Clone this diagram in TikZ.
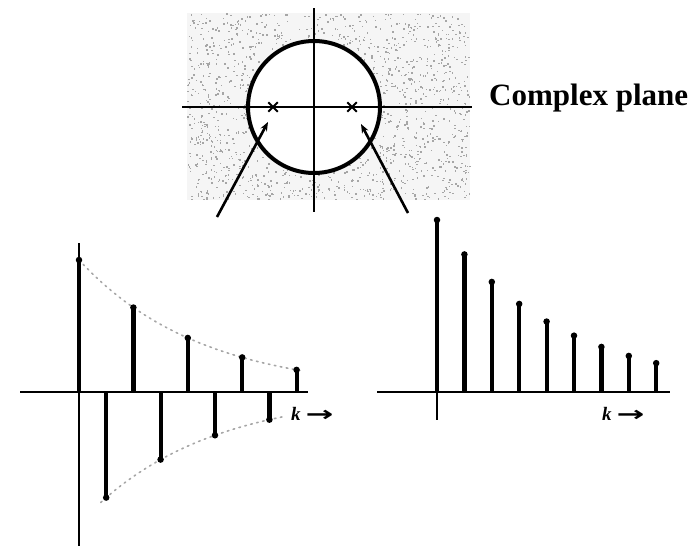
\documentclass[tikz,border=0pt]{standalone}
\usepackage{fontspec}
\usepackage{graphicx}
\setmainfont{Liberation Serif}
\newfontfamily\arrowfont{DejaVu Sans}
\usetikzlibrary{arrows.meta,shapes.misc}

\tikzset{
  axis/.style={line width=2.6pt},
  stem/.style={line width=4.2pt},
  stemtip/.style={circle,fill,inner sep=0pt,minimum size=6.5pt},
  envelope/.style={line width=1.6pt,gray!70,dash pattern=on 1.6pt off 4.5pt,line cap=round},
  pointer/.style={line width=2.6pt,-{Stealth[length=9pt,width=7pt]}},
  pole/.style={cross out,draw,line width=2pt,minimum size=7.5pt,inner sep=0pt},
  klabel/.style={anchor=base west,inner sep=0pt,font=\fontsize{19}{22}\selectfont}
}

\newcommand{\karrow}{\textbf{\textit{k}}\hspace{5pt}\raisebox{-1pt}{\scalebox{1.75}[1.1]{\arrowfont\bfseries →}}}

\begin{document}
\begin{tikzpicture}[x=1pt,y=-1pt]
\useasboundingbox (0,0) rectangle (693,546);

% complex plane
\fill[gray!8] (187,13) rectangle (470,200);
\pgfmathsetseed{42}
\foreach \i in {1,...,1700} {
  \pgfmathsetmacro\dx{187+282*rnd}
  \pgfmathsetmacro\dy{13+186*rnd}
  \fill[gray!70] (\dx,\dy) rectangle ++(1.5,1.5);
}
\node[circle,draw,fill=white,line width=4pt,minimum size=132pt] (unit) at (314,107) {};
\draw[axis] (182,107) -- (472,107);
\draw[axis] (314,8) -- (314,212);
\node[pole] (pole1) at (273,107) {};
\node[pole] (pole2) at (352,107) {};
\node[anchor=base west,inner sep=0pt,font=\fontsize{31}{36}\selectfont\bfseries] (name) at (489,105) {Complex plane};

\coordinate (from1) at (217,217);
\coordinate (to1) at (268,122);
\coordinate (from2) at (408,213);
\coordinate (to2) at (361,124);
\draw[pointer] (from1) -- (to1);
\draw[pointer] (from2) -- (to2);

% left: alternating
\draw[axis] (20,392) -- (308,392);
\draw[line width=2pt] (79,243) -- (79,546);
\draw[envelope] plot[domain=0:8.2,samples=40] ({79+27.2*\x},{392-132*0.8^\x});
\draw[envelope] plot[domain=0.8:7.6,samples=40] ({79+27.2*\x},{392+132*0.8^\x});
\foreach \k in {0,...,8} {
  \pgfmathsetmacro\sx{79+27.2*\k}
  \pgfmathsetmacro\sy{392-132*0.8^\k*(1-2*mod(\k,2))}
  \draw[stem] (\sx,392) -- (\sx,\sy) node[stemtip] (a\k) {};
}
\node[klabel] (kleft) at (291,420) {\karrow};

% right: decaying
\draw[axis] (377,392) -- (670,392);
\draw[line width=2pt] (437,392) -- (437,420);
\foreach \k in {0,...,8} {
  \pgfmathsetmacro\sx{437+27.4*\k}
  \pgfmathsetmacro\sy{392-172*0.8^\k}
  \draw[stem] (\sx,392) -- (\sx,\sy) node[stemtip] (b\k) {};
}
\node[klabel] (kright) at (602,420) {\karrow};

\end{tikzpicture}
\end{document}
